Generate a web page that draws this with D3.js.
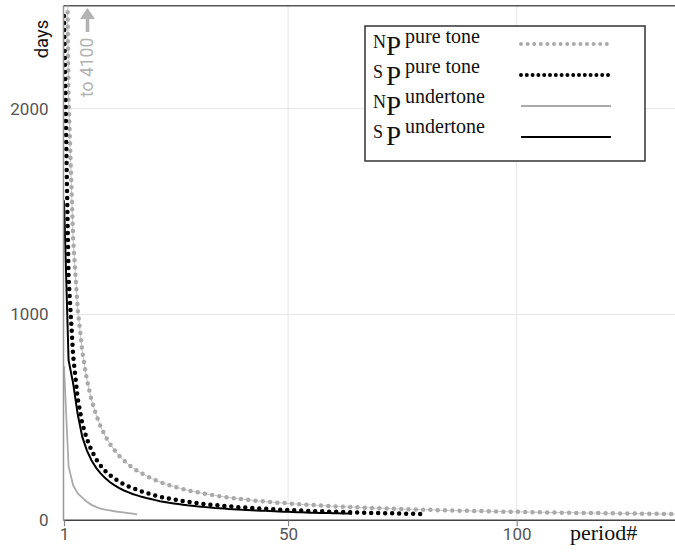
<!DOCTYPE html>
<html><head><meta charset="utf-8">
<script src="https://cdn.jsdelivr.net/npm/d3@7"></script>
<style>body{margin:0;background:#fff}svg{display:block}</style>
</head><body>
<svg id="c" width="675" height="552"></svg>
<script>
// period# runs 1,2,3,... for each series
const npPure = [4100,2050,1367,1025,820,683,586,513,456,410,373,342,315,293,273,256,241,228,216,205,195,186,178,171,164,158,152,146,141,137,132,128,124,121,117,114,111,108,105,103,100,98,95,93,91,89,87,85,84,82,80,79,77,76,75,73,72,71,69,68,67,66,65,64,63,62,61,60,59,59,58,57,56,55,55,54,53,53,52,51,51,50,49,49,48,48,47,47,46,46,45,45,44,44,43,43,42,42,41,41,41,40,40,39,39,39,38,38,38,37,37,37,36,36,36,35,35,35,34,34,34,34,33,33,33,33,32,32,32,32,31,31,31,31,30];
const spPure = [2450,1180,800,590,470,395,340,298,266,240,220,203,189,176,165,157,148,140,133,126,120,114,110,105,101,97,93,90,87,84,81,78,76,74,72,70,68,66,64,63,61,60,58,57,56,54,53,52,51,50,49,48,47,46,45,44,44,43,42,41,41,40,39,39,38,37,37,36,36,35,35,34,34,33,33,32,32,32,31,31];
const npUnder = [750,262,170,130,110,90,75,65,57,52,48,44,41,38,35,32,29];
const spUnder = [1555,778,665,515,405,340,292,256,228,205,186,171,158,146,137,128,121,114,108,103,98,93,89,85,82,79,76,73,71,68,66,64,62,60,59,57,55,54,53,51,50,49,48,47,46,45,44,43,42,41,40,39,39,38,37,37,36,35,35,34,34,33,33,32];
const xTicks = [1, 50, 100];
const yTicks = [0, 1000, 2000];
const legendPrefix = ["N", "S", "N", "S"];
const legendSup = ["pure tone", "pure tone", "undertone", "undertone"];

const W = 675, H = 552;
const pLeft = 63.5, pTop = 5.7, pBottom = 520.3;
const svg = d3.select("#c");
const x = d3.scaleLinear().domain([1, 100]).range([64, 516.7]);
const y = d3.scaleLinear().domain([0, 2500]).range([pBottom, pTop]);

// gridlines
svg.append("g").selectAll("line").data(xTicks.filter(d => d > 1)).join("line")
  .attr("x1", d => x(d)).attr("x2", d => x(d)).attr("y1", pTop).attr("y2", pBottom)
  .attr("stroke", "#e6e6e6").attr("stroke-width", 1);
svg.append("g").selectAll("line").data(yTicks.filter(d => d > 0)).join("line")
  .attr("x1", pLeft).attr("x2", W).attr("y1", d => y(d)).attr("y2", d => y(d))
  .attr("stroke", "#e6e6e6").attr("stroke-width", 1);

// top border
svg.append("line").attr("x1", pLeft).attr("x2", W).attr("y1", pTop).attr("y2", pTop)
  .attr("stroke", "#555").attr("stroke-width", 1.5);

// clip
svg.append("defs").append("clipPath").attr("id", "clip").append("rect")
  .attr("x", pLeft).attr("y", pTop).attr("width", W - pLeft + 10).attr("height", pBottom - pTop);

const line = d3.line().x((d, i) => x(i + 1)).y(d => y(d));
const plot = svg.append("g").attr("clip-path", "url(#clip)");

plot.append("path").attr("d", line(npUnder)).attr("fill", "none")
  .attr("stroke", "#aaa").attr("stroke-width", 1.8);
plot.append("path").attr("d", line(npPure)).attr("fill", "none")
  .attr("stroke", "#c4c4c4").attr("stroke-width", 1);
plot.append("path").attr("d", line(npPure)).attr("fill", "none")
  .attr("stroke", "#aaa").attr("stroke-width", 4.5)
  .attr("stroke-dasharray", "0,7.3").attr("stroke-linecap", "round");
plot.append("path").attr("d", line(spUnder)).attr("fill", "none")
  .attr("stroke", "#000").attr("stroke-width", 2);
plot.append("path").attr("d", line(spPure)).attr("fill", "none")
  .attr("stroke", "#000").attr("stroke-width", 4.5)
  .attr("stroke-dasharray", "0,7").attr("stroke-linecap", "round");

// axes
const xAxis = svg.append("g").attr("transform", `translate(0,${pBottom})`)
  .call(d3.axisBottom(x).tickValues(xTicks).tickSize(6).tickSizeOuter(0).tickFormat(d3.format("d")));
xAxis.select(".domain").attr("d", `M${pLeft},0H${W}`).attr("stroke", "#444").attr("stroke-width", 1.5);
xAxis.selectAll(".tick line").attr("stroke", "#888").attr("stroke-width", 1.2);
xAxis.selectAll(".tick text").attr("fill", "#555").attr("font-size", 17)
  .attr("font-family", "Roboto, 'Liberation Sans', sans-serif").attr("dy", "0.4em").attr("y", 13);

const yAxis = svg.append("g").attr("transform", `translate(${pLeft},0)`)
  .call(d3.axisLeft(y).tickValues(yTicks).tickSize(0).tickPadding(15).tickFormat(d3.format("d")));
yAxis.select(".domain").attr("d", `M0,${pTop}V${pBottom}`).attr("stroke", "#999").attr("stroke-width", 1.5);
yAxis.selectAll(".tick text").attr("fill", "#555").attr("font-size", 17)
  .attr("font-family", "Roboto, 'Liberation Sans', sans-serif");

// axis titles
svg.append("text").attr("transform", "translate(48,39) rotate(-90)")
  .attr("text-anchor", "middle").attr("font-size", 18.5)
  .attr("font-family", "Roboto, 'Liberation Sans', sans-serif").attr("fill", "#111").text("days");
svg.append("text").attr("x", 570).attr("y", 540)
  .attr("font-size", 22).attr("font-family", "'Liberation Serif', serif").attr("fill", "#111").text("period#");

// "to 4100" annotation with arrow
svg.append("text").attr("transform", "translate(93,97) rotate(-90)")
  .attr("font-size", 17.5).attr("font-family", "Roboto, 'Liberation Sans', sans-serif")
  .attr("fill", "#b3b3b3").text("to 4100");
svg.append("path").attr("d", "M80,19 L87.5,8 L95,19 Z").attr("fill", "#b3b3b3");
svg.append("rect").attr("x", 85.7).attr("y", 18).attr("width", 3.6).attr("height", 14).attr("fill", "#b3b3b3");

// legend
const lg = svg.append("g");
lg.append("rect").attr("x", 365).attr("y", 26).attr("width", 280).attr("height", 135)
  .attr("fill", "#fff").attr("stroke", "#333").attr("stroke-width", 1.5);
const styles = [
  {stroke: "#aaa", w: 4, dash: "0,6.6", cap: "round"},
  {stroke: "#000", w: 4, dash: "0,5.8", cap: "round"},
  {stroke: "#aaa", w: 1.8, dash: null, cap: "butt"},
  {stroke: "#000", w: 2, dash: null, cap: "butt"}
];
legendPrefix.forEach((p, i) => {
  const yb = 55 + i * 30;
  const ly = 44 + i * 31;
  lg.append("text").attr("x", 373).attr("y", yb - 7).attr("font-size", 18)
    .attr("font-family", "'Liberation Serif', serif").attr("fill", "#111").text(p);
  lg.append("text").attr("x", 386).attr("y", yb).attr("font-size", 27)
    .attr("font-family", "'Liberation Serif', serif").attr("fill", "#111").text("P");
  lg.append("text").attr("x", 405).attr("y", yb - 12).attr("font-size", 20)
    .attr("font-family", "'Liberation Serif', serif").attr("fill", "#111").text(legendSup[i]);
  const s = styles[i];
  lg.append("line").attr("x1", 521).attr("x2", 611).attr("y1", ly).attr("y2", ly)
    .attr("stroke", s.stroke).attr("stroke-width", s.w)
    .attr("stroke-dasharray", s.dash).attr("stroke-linecap", s.cap);
});
</script>
</body></html>
